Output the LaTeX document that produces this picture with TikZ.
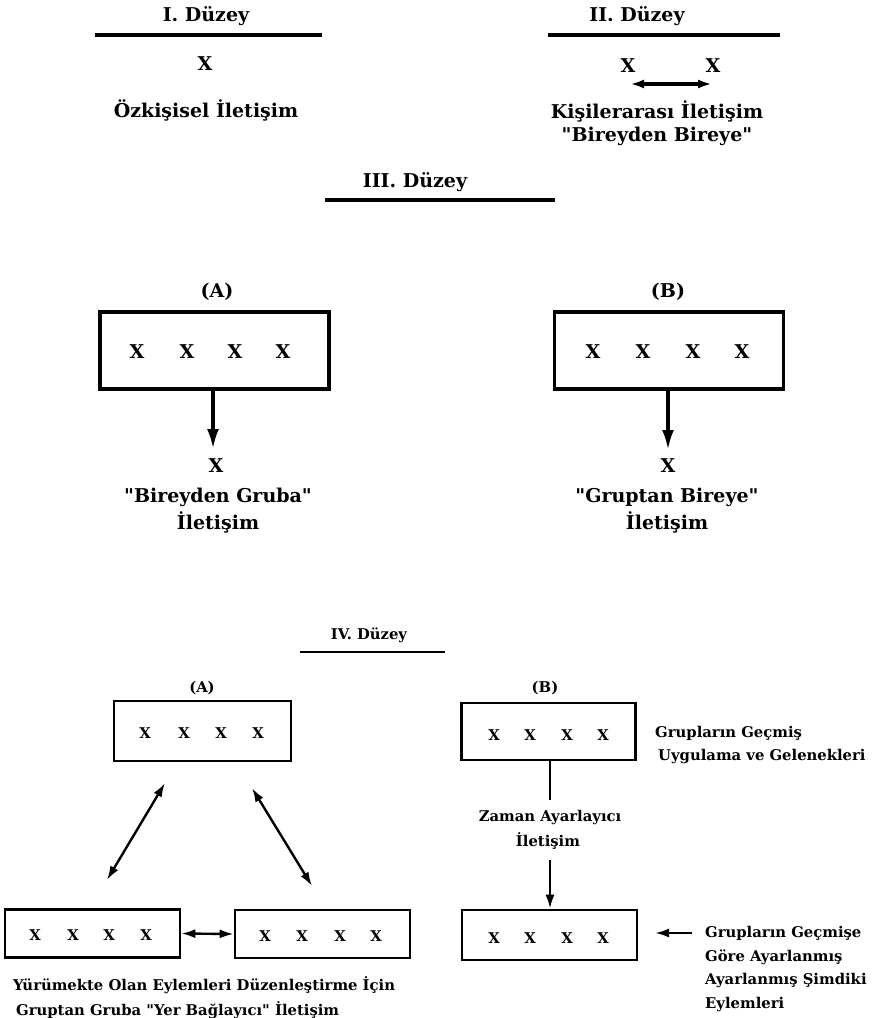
\documentclass[tikz,border=0pt]{standalone}
\usepackage{fontspec}
\setmainfont{DejaVu Serif}
\usetikzlibrary{arrows.meta}
\newcommand{\dq}{\textquotedbl}
\tikzset{
  big/.style={font=\fontsize{19}{23}\selectfont\bfseries, inner sep=0pt},
  small/.style={font=\fontsize{14.8}{18}\selectfont\bfseries, inner sep=0pt},
  rule/.style={line width=3.2pt},
  bigbox/.style={draw, line width=3.2pt, minimum width=229pt, minimum height=77pt, inner sep=0pt},
  smallbox/.style={draw, line width=2.6pt, minimum width=174pt, minimum height=50pt, inner sep=0pt},
  bigarrow/.style={line width=3.4pt, -{Latex[length=20pt,width=12pt]}},
  bigdouble/.style={line width=3.4pt, {Latex[length=14pt,width=9pt]}-{Latex[length=14pt,width=9pt]}},
  smalldouble/.style={line width=2.4pt, {Latex[length=14pt,width=9pt]}-{Latex[length=14pt,width=9pt]}},
  smallarrow/.style={line width=2.4pt, -{Latex[length=14pt,width=9pt]}},
  plainline/.style={line width=2.4pt},
}
\begin{document}
\begin{tikzpicture}[x=1pt,y=-1pt]
\useasboundingbox (0,0) rectangle (883,1018);

% ---- Level I ----
\node[big] (t1) at (206,16) {I. Düzey};
\coordinate (t1l) at (95,35); \coordinate (t1r) at (322,35);
\draw[rule] (t1l) -- (t1r);
\node[big] (x1) at (205,64) {X};
\node[big] (l1) at (206,110) {Özkişisel İletişim};

% ---- Level II ----
\node[big] (t2) at (637,16) {II. Düzey};
\coordinate (t2l) at (548,35); \coordinate (t2r) at (780,35);
\draw[rule] (t2l) -- (t2r);
\node[big] (x2a) at (628,66) {X};
\node[big] (x2b) at (713,66) {X};
\coordinate (a2l) at (630,84); \coordinate (a2r) at (712,84);
\draw[bigdouble] (a2l) -- (a2r);
\node[big] (l2a) at (657,111) {Kişilerarası İletişim};
\node[big] (l2b) at (657,136) {\dq Bireyden Bireye\dq};

% ---- Level III ----
\node[big] (t3) at (415,182) {III. Düzey};
\coordinate (t3l) at (325,200); \coordinate (t3r) at (555,200);
\draw[rule] (t3l) -- (t3r);

% III (A)
\node[big] (pa) at (217,292) {(A)};
\node[bigbox] (ba) at (214.5,350.5) {};
\foreach \i/\x in {1/137,2/187,3/235,4/283}
  \node[big] (ba\i) at (\x,352) {X};
\node[big] (xa) at (216,466) {X};
\coordinate (ea) at (213,449);
\draw[bigarrow] (ba.south -| ea) -- (ea);
\node[big] (la1) at (218,497) {\dq Bireyden Gruba\dq};
\node[big] (la2) at (218,522) {İletişim};

% III (B)
\node[big] (pb) at (668,292) {(B)};
\node[bigbox] (bb) at (669,350.5) {};
\foreach \i/\x in {1/593,2/643,3/693,4/742}
  \node[big] (bb\i) at (\x,352) {X};
\node[big] (xb) at (668,466) {X};
\coordinate (eb) at (668,450);
\draw[bigarrow] (bb.south -| eb) -- (eb);
\node[big] (lb1) at (667,497) {\dq Gruptan Bireye\dq};
\node[big] (lb2) at (667,522) {İletişim};

% ---- Level IV ----
\node[small] (t4) at (369,635) {IV. Düzey};
\coordinate (t4l) at (300,652); \coordinate (t4r) at (445,652);
\draw[rule, line width=2.6pt] (t4l) -- (t4r);

% IV (A)
\node[small] (qa) at (202,688) {(A)};
\node[smallbox, minimum width=177pt, minimum height=60pt] (ca) at (202.5,731) {};
\foreach \i/\x in {1/145,2/184,3/221,4/258}
  \node[small] (ca\i) at (\x,733) {X};
\node[smallbox, minimum width=175pt, minimum height=48pt] (cl) at (92.5,933.5) {};
\foreach \i/\x in {1/35,2/73,3/109,4/146}
  \node[small] (cl\i) at (\x,935) {X};
\node[smallbox, minimum width=175pt, minimum height=48pt] (cr) at (322.5,934) {};
\foreach \i/\x in {1/265,2/302,3/340,4/376}
  \node[small] (cr\i) at (\x,936) {X};
\coordinate (d1a) at (165,783); \coordinate (d1b) at (107,880);
\coordinate (d2a) at (252,788); \coordinate (d2b) at (312,886);
\draw[smalldouble] (d1a) -- (d1b);
\draw[smalldouble] (d2a) -- (d2b);
\draw[smalldouble] (cl.east) -- (cr.west);
\node[small, anchor=west] (ya) at (13,985) {Yürümekte Olan Eylemleri Düzenleştirme İçin};
\node[small, anchor=west] (yb) at (16,1010) {Gruptan Gruba \dq Yer Bağlayıcı\dq{} İletişim};

% IV (B)
\node[small] (qb) at (545,688) {(B)};
\node[smallbox, minimum width=174pt, minimum height=57pt] (cb) at (548.5,731.5) {};
\foreach \i/\x in {1/494,2/530,3/567,4/603}
  \node[small] (cb\i) at (\x,735) {X};
\node[smallbox, minimum width=175pt, minimum height=50pt] (cc) at (549.5,935) {};
\foreach \i/\x in {1/494,2/530,3/567,4/603}
  \node[small] (cc\i) at (\x,938) {X};
\node[small] (z1) at (550,818) {Zaman Ayarlayıcı};
\node[small] (z2) at (548,841) {İletişim};
\coordinate (zl) at (550,800);
\draw[plainline] (cb.south -| zl) -- (zl);
\coordinate (zs) at (550,860);
\draw[smallarrow] (zs) -- (cc.north -| zs);
\node[small, anchor=west] (g1) at (655,733) {Grupların Geçmiş};
\node[small, anchor=west] (g2) at (658,757) {Uygulama ve Gelenekleri};
\node[small, anchor=west] (h1) at (705,933) {Grupların Geçmişe};
\node[small, anchor=west] (h2) at (705,957) {Göre Ayarlanmış};
\node[small, anchor=west] (h3) at (705,981) {Ayarlanmış Şimdiki};
\node[small, anchor=west] (h4) at (705,1005) {Eylemleri};
\coordinate (ga) at (692,933); \coordinate (gb) at (655,933);
\draw[smallarrow] (ga) -- (gb);
\end{tikzpicture}
\end{document}
